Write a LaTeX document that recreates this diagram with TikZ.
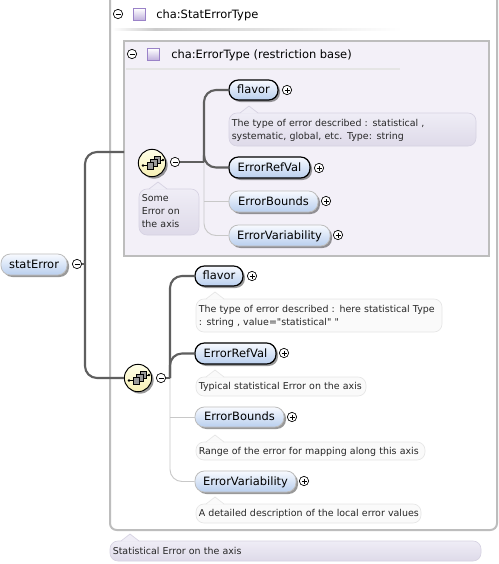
\documentclass[tikz,border=0pt]{standalone}
\usepackage{fontspec}
\setmainfont{DejaVu Sans}
\newfontfamily\dvplain{DejaVu Sans}
\usetikzlibrary{shadows,calc}
\definecolor{framegray}{HTML}{BDBDBD}
\definecolor{wirebold}{HTML}{5F5F5F}
\definecolor{wirethin}{HTML}{C8C8C8}
\definecolor{elemtop}{HTML}{F8FAFF}
\definecolor{elembot}{HTML}{B9CFEE}
\definecolor{innerfill}{HTML}{F3F0F8}
\definecolor{docborder}{HTML}{D6D2E2}
\definecolor{doctop}{HTML}{EFEDF6}
\definecolor{docbot}{HTML}{DEDAE9}
\definecolor{plainborder}{HTML}{E6E6E6}
\definecolor{plainfill}{HTML}{FAFAFA}
\definecolor{seqtop}{HTML}{FFFFE8}
\definecolor{seqbot}{HTML}{F6EFB4}
\definecolor{typeedge}{HTML}{9A82C8}
\tikzset{
  x=0.75pt,y=-0.75pt,
  elembase/.style={rounded corners=7pt,top color=elemtop,bottom color=elembot,inner sep=0pt,
     font=\dvplain\fontsize{8.6pt}{10pt}\selectfont,text height=6.9pt,text depth=1.6pt,
     drop shadow={shadow xshift=1.5pt,shadow yshift=-1.5pt,fill=black,opacity=.4}},
  elemreq/.style={elembase,draw=black,line width=0.9pt},
  elemopt/.style={elembase,draw=framegray,line width=0.6pt},
  docfilled/.style={rounded corners=6pt,draw=docborder,line width=0.5pt,top color=doctop,bottom color=docbot,inner sep=0pt},
  docplain/.style={rounded corners=6pt,draw=plainborder,line width=0.5pt,fill=plainfill,inner sep=0pt},
  doctext/.style={font=\dvplain\fontsize{7.1pt}{9.9pt}\selectfont,align=left,anchor=north west,inner sep=0pt,text=black!85},
  toggle/.style={circle,draw=black,line width=0.5pt,fill=white,minimum size=7pt,inner sep=0pt},
  seqnode/.style={circle,draw=black,line width=0.7pt,top color=seqtop,bottom color=seqbot,minimum size=20.5pt,inner sep=0pt,
     drop shadow={shadow xshift=1.5pt,shadow yshift=-1.5pt,fill=black,opacity=.4}},
  wirebig/.style={draw=wirebold,line width=1.6pt,rounded corners=9pt},
  wiresmall/.style={draw=wirethin,line width=0.7pt,rounded corners=9pt},
  typesq/.style={draw=typeedge,line width=0.8pt,top color=white,bottom color=typeedge!65,minimum size=9pt,inner sep=0pt},
  titletext/.style={font=\dvplain\fontsize{8.6pt}{10pt}\selectfont,anchor=west,inner sep=0pt},
  framepath/.style={draw=framegray,line width=1.5pt},
  innerframe/.style={framepath,fill=innerfill,inner sep=0pt,outer sep=0pt},
}
\newcommand{\elbox}[7]{\node[#7,minimum width={(#4-#2)*0.75pt},minimum height={(#5-#3)*0.75pt}] (#1) at ({(#2+#4)/2},{(#3+#5)/2}) {#6};}
\newcommand{\tgminus}[3]{\node[toggle] (#1) at (#2,#3) {}; \draw[line width=0.5pt] ($(#1.center)+(-2.5,0)$) -- ($(#1.center)+(2.5,0)$);}
\newcommand{\tgplus}[3]{\node[toggle] (#1) at (#2,#3) {}; \draw[line width=0.5pt] ($(#1.center)+(-2.5,0)$) -- ($(#1.center)+(2.5,0)$) ($(#1.center)+(0,-2.5)$) -- ($(#1.center)+(0,2.5)$);}
\newcommand{\docbox}[9]{%
  \elbox{#1}{#2}{#3}{#4}{#5}{}{#7}
  \fill[fill=#8] (#6-9,#3+0.5) -- (#6,#3-7) -- (#6+9,#3+0.5) -- cycle;
  \draw[draw=#7border,line width=0.5pt] (#6-9,#3) -- (#6,#3-7) -- (#6+9,#3);
  \node[doctext,text width=#9*0.75pt] at (#2+2.5,#3+\csname dy#1\endcsname) {\csname dt#1\endcsname};
}
\colorlet{docfilledborder}{docborder}
\colorlet{docplainborder}{plainborder}
\newcommand{\seqicon}[1]{%
  \begin{scope}[shift={(#1)}]
    \draw[line width=0.6pt] (-9,2.5) -- (-5,2.5) (7,-3) -- (11,-3);
    \fill (-9,2.5) circle (1.1pt) (11,-3) circle (1.1pt);
    \foreach \dx/\dy in {2/-6.5,-1.5/-3.5,-5/-0.5}{
      \draw[line width=0.5pt,fill=black!40] (\dx,\dy) rectangle +(6.5,6.5);
    }
  \end{scope}}
\begin{document}
\begin{tikzpicture}
\useasboundingbox (0,0) rectangle (499,564);
\fill[white] (0,0) rectangle (499,564);
% frames
\draw[framepath,rounded corners=5pt] (110,-5) -- (110,530) -- (497,530) -- (497,-5);
\elbox{innerfr}{124}{41}{489}{256}{}{innerframe}
% title lines
\shade[left color=white,right color=black!20] (112,28) rectangle (155,30);
\shade[left color=black!20,right color=white] (155,28) rectangle (402,30);
\fill[black!10] (126,67.5) rectangle (400,69.5);
% titles
\tgminus{tgone}{118}{14}
\node[typesq] (sqone) at (139.5,14.5) {};
\node[titletext] (ttone) at (156,15) {cha:StatErrorType};
\tgminus{tgtwo}{132}{54}
\node[typesq] (sqtwo) at (153.5,54.5) {};
\node[titletext] (tttwo) at (171,55) {cha:ErrorType (restriction base)};
% elements upper
\elbox{flavA}{229}{80}{278}{100}{flavor}{elemreq}
\elbox{refA}{229}{157}{310}{178}{ErrorRefVal}{elemreq}
\elbox{bndA}{229}{191}{318}{212}{ErrorBounds}{elemopt}
\elbox{varA}{229}{225}{330}{246}{ErrorVariability}{elemopt}
\tgplus{pfA}{287}{90}
\tgplus{prA}{319}{168}
\tgplus{pbA}{326}{201}
\tgplus{pvA}{338}{235}
% elements lower
\elbox{flavB}{195}{266}{243}{286}{flavor}{elemreq}
\elbox{refB}{195}{343}{276}{364}{ErrorRefVal}{elemreq}
\elbox{bndB}{195}{407}{284}{427}{ErrorBounds}{elemopt}
\elbox{varB}{195}{471}{296}{492}{ErrorVariability}{elemopt}
\tgplus{pfB}{252}{276}
\tgplus{prB}{284}{353}
\tgplus{pbB}{292}{417}
\tgplus{pvB}{304}{481}
% root
\elbox{root}{1}{254}{67}{275}{statError}{elemopt}
\tgminus{tgroot}{77}{264}
% sequences
\node[seqnode] (seqA) at (152,163) {};
\seqicon{seqA.center}
\tgminus{tgA}{175}{162}
\node[seqnode] (seqB) at (138,378) {};
\seqicon{seqB.center}
\tgminus{tgB}{161}{378}
% connectors
\coordinate (rootj) at (85,264);
\coordinate (jA) at (204,162);
\coordinate (jB) at (170,378);
\coordinate (innerport) at (innerfr.west |- 0,152);
\draw[wirebig] (tgroot.east) -- (rootj);
\draw[wirebig] (rootj) |- (innerport);
\draw[wirebig] (rootj) |- (seqB.west);
\draw[wiresmall] (jA) |- (varA.west);
\draw[wiresmall] (jA |- bndA.west) -- (bndA.west);
\draw[wirebig] (tgA.east) -- (jA);
\draw[wirebig] (jA) |- (flavA.west);
\draw[wirebig] (jA) |- (refA.west);
\draw[wiresmall] (jB) |- (varB.west);
\draw[wiresmall] (jB |- bndB.west) -- (bndB.west);
\draw[wirebig] (tgB.east) -- (jB);
\draw[wirebig] (jB) |- (flavB.west);
\draw[wirebig] (jB) |- (refB.west);
% docs
\newcommand{\dydocA}{6}\newcommand{\dydocS}{5}\newcommand{\dydocF}{6}\newcommand{\dydocR}{5}
\newcommand{\dydocB}{5}\newcommand{\dydocV}{5.5}\newcommand{\dydocT}{6}
\newcommand{\dtdocA}{The type of error described : statistical ,\\systematic, global, etc. Type: string}
\docbox{docA}{229}{113}{476}{146}{249}{docfilled}{doctop}{240}
\newcommand{\dtdocS}{Some\\Error on\\the axis}
\docbox{docS}{139}{189}{199}{235}{158}{docfilled}{doctop}{55}
\newcommand{\dtdocF}{The type of error described : here statistical Type\\: string , value="statistical" "}
\docbox{docF}{196}{299}{442}{332}{215}{docplain}{plainfill}{240}
\newcommand{\dtdocR}{Typical statistical Error on the axis}
\docbox{docR}{196}{377}{366}{396}{215}{docplain}{plainfill}{165}
\newcommand{\dtdocB}{Range of the error for mapping along this axis}
\docbox{docB}{196}{442}{425}{460}{215}{docplain}{plainfill}{225}
\newcommand{\dtdocV}{A detailed description of the local error values}
\docbox{docV}{196}{504}{421}{523}{215}{docplain}{plainfill}{222}
\newcommand{\dtdocT}{Statistical Error on the axis}
\docbox{docT}{110}{541}{481}{561}{130}{docfilled}{doctop}{360}
\end{tikzpicture}
\end{document}
